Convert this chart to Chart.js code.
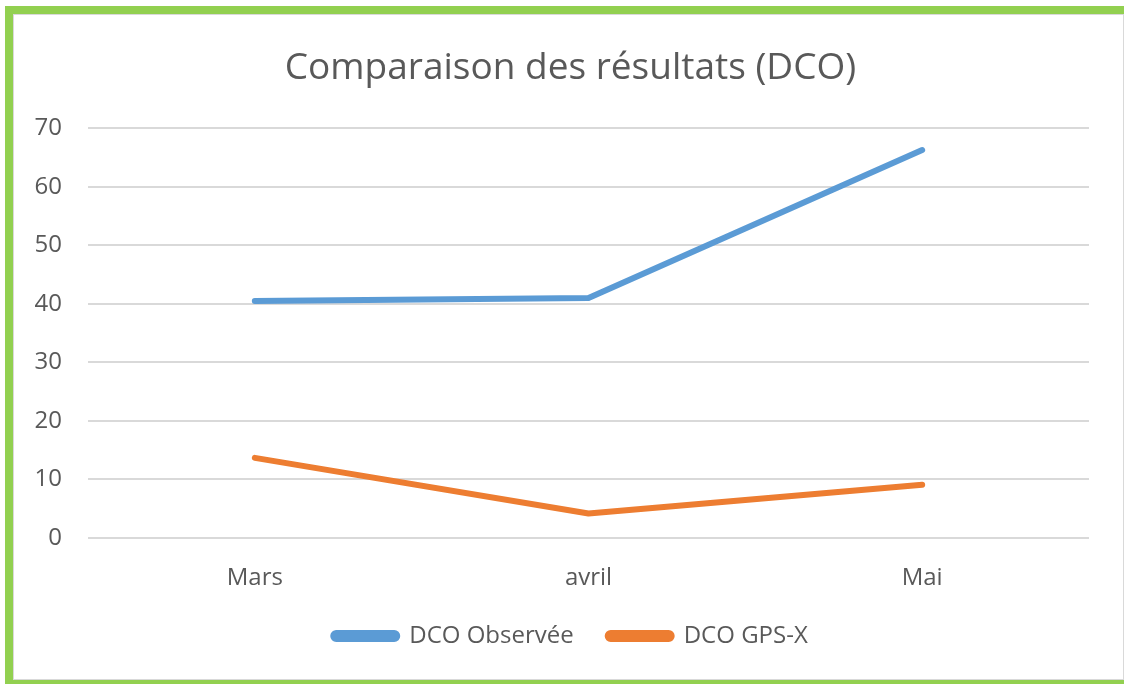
<!DOCTYPE html>
<html>
<head>
<meta charset="utf-8">
<script src="https://cdn.jsdelivr.net/npm/chart.js@4.4.1/dist/chart.umd.min.js"></script>
<style>
    html, body { margin: 0; padding: 0; background: #fff; }
    #frame { position: absolute; left: 5px; top: 6px; width: 1119px; height: 678px; background: #92d050; }
    #inner { position: absolute; left: 8px; top: 8px; right: 0; bottom: 4px; background: #fff; border: 1px solid #d9d9d9; box-sizing: border-box; }
    #wrap { position: absolute; left: 0; top: 0; width: 1124px; height: 684px; }
    #chart-dco { display: block; }
</style>
</head>
<body>
<div id="frame"><div id="inner"></div></div>
<div id="wrap"><canvas id="chart-dco" width="1124" height="684"></canvas></div>
<script>
// --- Données ---
const mois = ['Mars', 'avril', 'Mai'];
const dcoObservee = [40.5, 41.0, 66.3];
const dcoGpsX = [13.7, 4.2, 9.1];
const yTicks = [0, 10, 20, 30, 40, 50, 60, 70];

const gris = '#595959';
const police = '"Open Sans", sans-serif';

Chart.defaults.font.family = police;
Chart.defaults.color = gris;

// the y labels sit left of the layout padding, so widen their clip box
const yLabelsFullWidth = {
    id: 'yLabelsFullWidth',
    afterLayout(chart) { chart.scales.y.left = 0; }
};

new Chart(document.getElementById('chart-dco').getContext('2d'), {
    type: 'line',
    data: {
        labels: mois,
        datasets: [
            {
                label: 'DCO Observée',
                data: dcoObservee,
                borderColor: '#5b9bd5',
                backgroundColor: '#5b9bd5',
                borderWidth: 6,
                borderCapStyle: 'round',
                borderJoinStyle: 'round',
                pointRadius: 0,
                tension: 0
            },
            {
                label: 'DCO GPS-X',
                data: dcoGpsX,
                borderColor: '#ed7d31',
                backgroundColor: '#ed7d31',
                borderWidth: 6,
                borderCapStyle: 'round',
                borderJoinStyle: 'round',
                pointRadius: 0,
                tension: 0
            }
        ]
    },
    options: {
        responsive: false,
        animation: false,
        devicePixelRatio: 1,
        layout: { padding: { left: 52, right: 35, top: 0, bottom: 26 } },
        scales: {
            x: {
                offset: true,
                afterFit: s => { s.height = 52; },
                grid: { display: false, drawTicks: false },
                border: { display: false },
                ticks: { color: gris, font: { size: 24 }, padding: 26 }
            },
            y: {
                min: 0,
                max: 70,
                afterBuildTicks: s => { s.ticks = yTicks.map(v => ({ value: v })); },
                afterFit: s => { s.width = 36; },
                grid: { color: '#d9d9d9', lineWidth: 2, drawTicks: false },
                border: { display: false },
                ticks: { color: gris, font: { size: 24 }, padding: 26 }
            }
        },
        plugins: {
            title: {
                display: true,
                text: 'Comparaison des résultats (DCO)',
                color: gris,
                font: { size: 37, weight: 'normal' },
                padding: { top: 46, bottom: 38 }
            },
            legend: {
                position: 'bottom',
                labels: {
                    color: gris,
                    font: { size: 24 },
                    boxWidth: 64,
                    boxHeight: 6,
                    useBorderRadius: true,
                    borderRadius: 3,
                    padding: 34
                }
            },
            tooltip: { enabled: false }
        }
    },
    plugins: [yLabelsFullWidth]
});
</script>
</body>
</html>
